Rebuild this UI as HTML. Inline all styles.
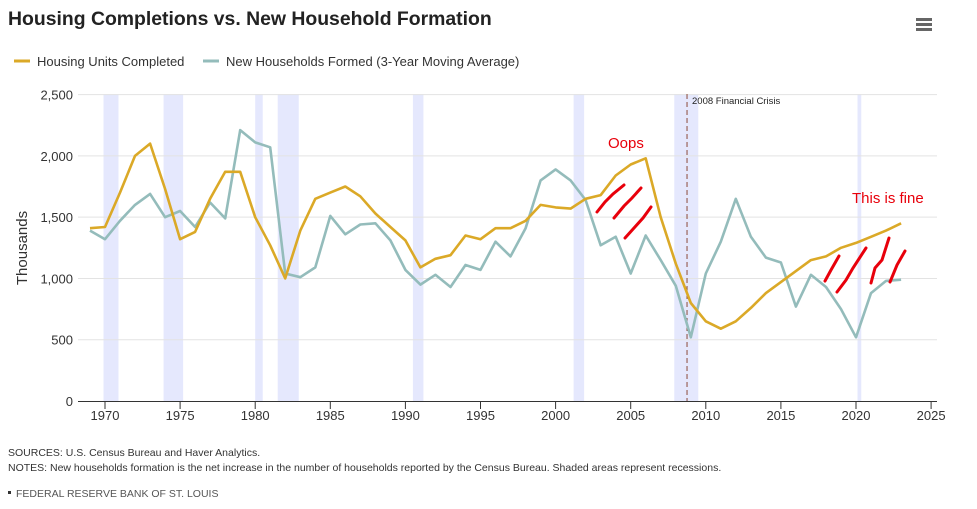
<!DOCTYPE html>
<html><head><meta charset="utf-8"><style>
body{margin:0;background:#fff;font-family:"Liberation Sans",sans-serif;}
#wrap{position:relative;width:977px;height:509px;overflow:hidden;}
svg text{font-family:"Liberation Sans",sans-serif;}
</style></head><body>
<div id="wrap">
<svg id="chart" width="977" height="509">
<text x="8" y="25" font-size="19.4" font-weight="bold" fill="#222">Housing Completions vs. New Household Formation</text>
<g>
<rect x="916" y="18" width="16" height="3" fill="#666"/><rect x="916" y="23" width="16" height="3" fill="#666"/><rect x="916" y="28" width="16" height="3" fill="#666"/>
</g>
<g><line x1="14" y1="61" x2="30" y2="61" stroke="#dba927" stroke-width="3"/><text x="37" y="66" font-size="13" fill="#333">Housing Units Completed</text></g>
<g><line x1="203" y1="61" x2="219" y2="61" stroke="#94bcbb" stroke-width="3"/><text x="226" y="66" font-size="13" fill="#333">New Households Formed (3-Year Moving Average)</text></g>
<text transform="translate(27,248) rotate(-90)" text-anchor="middle" font-size="15" fill="#333">Thousands</text>
<g id="bands"></g><g id="grid"></g><g id="lines"></g>
<g stroke="#e8000b" stroke-width="3" fill="none" stroke-linecap="round">
<path d="M597,212 L605,202 L613,194 L624,185"/>
<path d="M614,218 L624,206 L632,198 L641,188"/>
<path d="M625,238 L634,228 L643,218 L651,207"/>
<path d="M825,281 L831,270 L839,256"/>
<path d="M837,292 L846,280 L853,268 L866,248"/>
<path d="M871,283 L875,268 L882,260 L889,238"/>
<path d="M890,282 L897,265 L905,251"/>
</g>
<text x="608" y="148" font-size="15" fill="#e8000b">Oops</text>
<text x="852" y="203" font-size="15" fill="#e8000b">This is fine</text>
<text x="8" y="456" font-size="10.5" fill="#333">SOURCES: U.S. Census Bureau and Haver Analytics.</text>
<text x="8" y="471" font-size="10.5" fill="#333">NOTES: New households formation is the net increase in the number of households reported by the Census Bureau. Shaded areas represent recessions.</text>
<rect x="8" y="491" width="3" height="3" fill="#333"/>
<text x="16" y="497" font-size="10.5" fill="#555">FEDERAL RESERVE BANK OF ST. LOUIS</text>
</svg></div>
<script>
const years=[1969,1970,1971,1972,1973,1974,1975,1976,1977,1978,1979,1980,1981,1982,1983,1984,1985,1986,1987,1988,1989,1990,1991,1992,1993,1994,1995,1996,1997,1998,1999,2000,2001,2002,2003,2004,2005,2006,2007,2008,2009,2010,2011,2012,2013,2014,2015,2016,2017,2018,2019,2020,2021,2022,2023];
const housing=[1410,1420,1700,2000,2100,1730,1320,1380,1650,1870,1870,1500,1270,1000,1390,1650,1700,1750,1670,1530,1420,1310,1090,1160,1190,1350,1320,1410,1410,1470,1600,1580,1570,1650,1680,1840,1930,1980,1500,1120,800,650,590,650,760,880,970,1060,1150,1180,1250,1290,1340,1390,1450];
const households=[1390,1320,1470,1600,1690,1500,1550,1420,1620,1490,2210,2110,2070,1040,1010,1090,1510,1360,1440,1450,1310,1070,950,1030,930,1110,1070,1300,1180,1410,1800,1890,1800,1640,1270,1340,1040,1350,1150,940,520,1040,1300,1650,1340,1170,1130,770,1030,930,750,520,880,980,990];
const recessions=[[1969.9,1970.9],[1973.9,1975.2],[1980.0,1980.5],[1981.5,1982.9],[1990.5,1991.2],[2001.2,2001.9],[2007.9,2009.5],[2020.1,2020.35]];
const yTicks=[0,500,1000,1500,2000,2500];
const xTicks=[1970,1975,1980,1985,1990,1995,2000,2005,2010,2015,2020,2025];
const crisisYear=2008.75;
const NS='http://www.w3.org/2000/svg';
const X=y=>105+(y-1970)*15.02;
const Y=v=>401-v*0.12256;
function mk(t,a,p){const e=document.createElementNS(NS,t);for(const k in a)e.setAttribute(k,a[k]);p.appendChild(e);return e;}
const bands=document.getElementById('bands'),grid=document.getElementById('grid'),lines=document.getElementById('lines');
recessions.forEach(r=>{const e=mk('rect',{x:X(r[0]),y:94,width:X(r[1])-X(r[0]),height:307,fill:'#e5e8fd'},bands);

});
yTicks.forEach(v=>{if(v>0){const l=mk('line',{x1:78,x2:937,y1:Y(v),y2:Y(v),stroke:'#e3e3e3','stroke-width':1},grid);

}
const t=mk('text',{x:73,y:Y(v)+5,'text-anchor':'end','font-size':13,fill:'#333'},grid);t.textContent=v.toLocaleString('en-US');

});
mk('line',{x1:78,x2:937,y1:401.5,y2:401.5,stroke:'#333','stroke-width':1},grid);
xTicks.forEach(v=>{mk('line',{x1:X(v),x2:X(v),y1:401,y2:409,stroke:'#333','stroke-width':1},grid);
const t=mk('text',{x:X(v),y:420,'text-anchor':'middle','font-size':13,fill:'#333'},grid);t.textContent=v;

});
const cl=mk('line',{x1:X(crisisYear),x2:X(crisisYear),y1:94,y2:401,stroke:'#8a4a3a','stroke-width':1,'stroke-dasharray':'5,3'},grid);


const ct=mk('text',{x:X(crisisYear)+5,y:104,'font-size':9.5,fill:'#222'},grid);ct.textContent='2008 Financial Crisis';


function line(vals,color,name){const d=vals.map((v,i)=>(i?'L':'M')+X(years[i]).toFixed(1)+','+Y(v).toFixed(1)).join(' ');
const p=mk('path',{d:d,fill:'none',stroke:color,'stroke-width':2.6,'stroke-linejoin':'round'},lines);

}
line(households,'#94bcbb','households-line');
line(housing,'#dba927','housing-line');
</script></body></html>
